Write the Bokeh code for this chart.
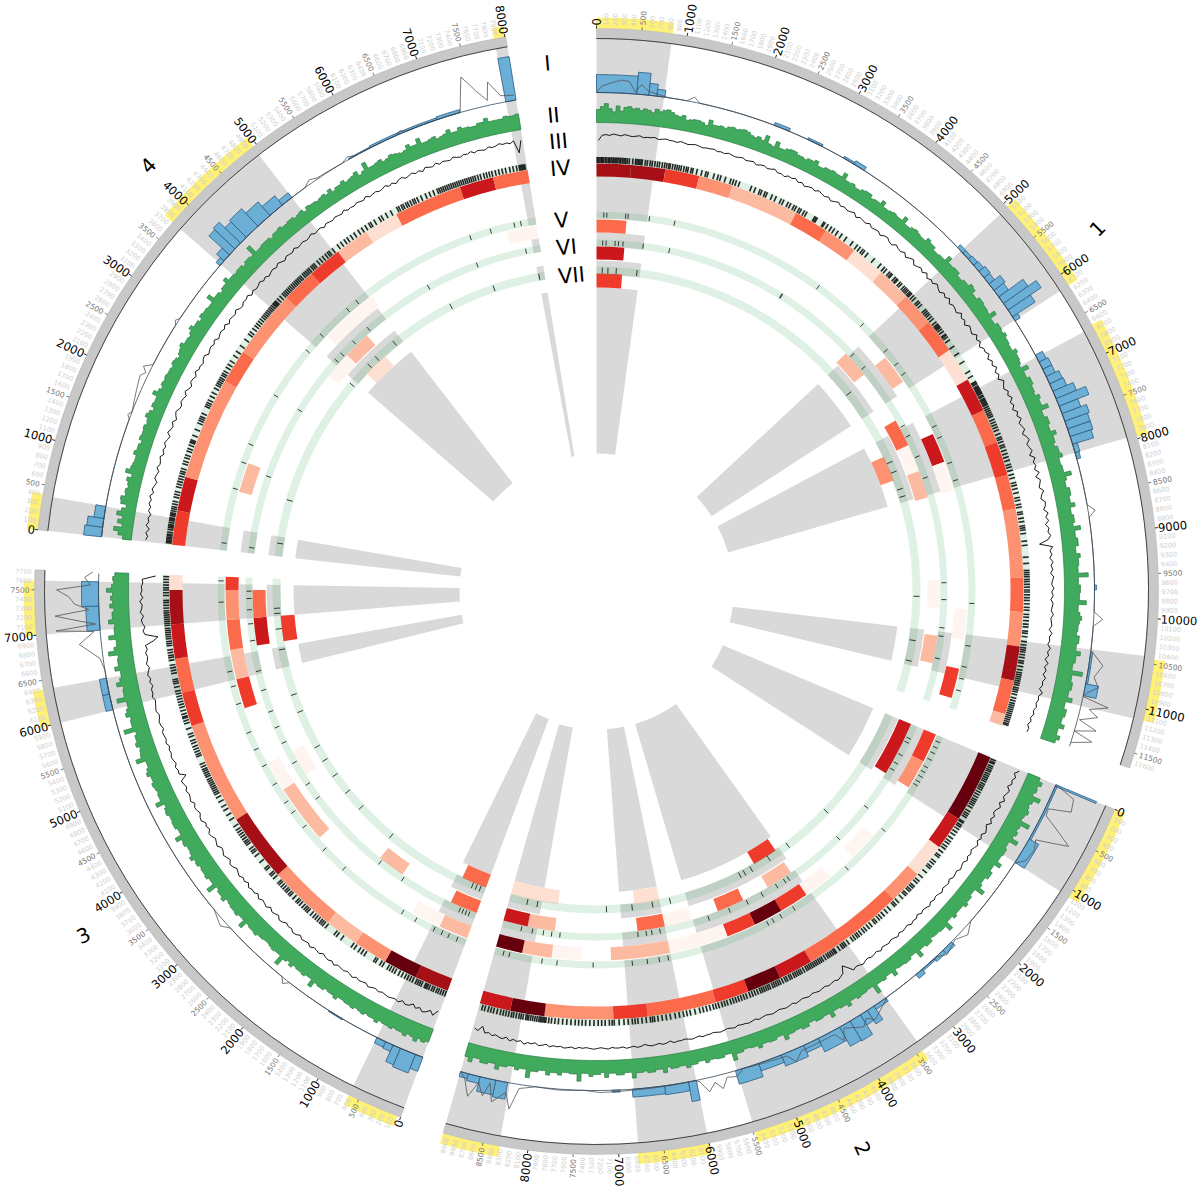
from math import radians, sin, cos
from bokeh.plotting import figure
from bokeh.models import Range1d, ColumnDataSource
from bokeh.core.properties import value
from bokeh.embed import file_html
from bokeh.resources import INLINE

R0,R1,R2,R3,R4,R5,R6,R7,R8 = '#fff5f0','#fee0d2','#fcbba1','#fc9272','#fb6a4a','#ef3b2c','#cb181d','#a50f15','#67000d'

sector_names = ["1","2","3","4"]
track_names = ["I","II","III","IV","V","VI","VII"]
start_deg = [0.0,112.7,200.4,276.3]
lengths = [11670,8950,7720,8010]
last_tick = [11600,8900,7700,8000]

gray_regions = [
 [(0,840),(5060,6150),(6680,7960),(10420,11130)],
 [(0,1090),(3420,5480),(6000,6780),(8320,8950)],
 [(0,620),(6000,6400),(7000,7600)],
 [(0,380),(3740,4950),(7880,8010)],
]
yellow_regions = [
 [(0,840),(5050,6150),(6650,7980),(10450,11130)],
 [(0,1090),(3430,5480),(6000,6790),(8310,8950)],
 [(40,620),(6000,6400),(7000,7600)],
 [(0,400),(3740,4960),(7880,8000)],
]
heat4 = [
 [(0,500,R7),(500,1000,R7),(1000,1500,R5),(1500,2000,R3),(2000,3000,R2),(3000,3500,R4),(3500,4000,R3),(4000,4500,R1),(4500,5000,R2),(5000,5500,R3),(5500,6000,R4),(6000,6500,R1),(6500,7000,R6),(7000,7500,R4),(7500,8000,R5),(8000,8500,R4),(8500,9500,R3),(9500,10000,R4),(10000,10500,R3),(10500,11000,R7),(11000,11500,R4),(11500,11670,R2)],
 [(0,1000,R8),(1000,1500,R6),(1500,2000,R1),(2000,2500,R3),(2500,4000,R4),(4000,4500,R6),(4500,5000,R8),(5000,5500,R5),(5500,6500,R4),(6500,7000,R5),(7000,8000,R3),(8000,8500,R8),(8500,8950,R6)],
 [(0,500,R7),(500,1000,R8),(1000,1500,R3),(1500,2000,R2),(2000,3000,R3),(3000,4000,R7),(4000,5500,R3),(5500,6000,R5),(6000,6500,R4),(6500,7000,R6),(7000,7500,R7),(7500,7720,R1)],
 [(0,500,R5),(500,1000,R6),(1000,2500,R3),(2500,3000,R4),(3000,4000,R3),(4000,4500,R4),(4500,5000,R5),(5000,5500,R2),(5500,6000,R1),(6000,7000,R4),(7000,7500,R6),(7500,8010,R4)],
]
heat5 = [
 [(0,500,R4),(5500,6000,R2),(7000,7500,R6),(7500,8000,R0),(10000,10500,R0),(11000,11500,R5)],
 [(0,500,R5),(500,1000,R3),(2000,2500,R0),(3000,3500,R0),(3500,4000,R5),(4000,4500,R8),(4500,5000,R5),(5000,6000,R0),(6000,7000,R2),(7500,8000,R0),(8000,8500,R2),(8500,8950,R8)],
 [(0,500,R2),(500,1000,R0),(3000,4000,R2),(4000,4500,R0),(5500,6000,R5),(6000,6500,R2),(6500,7000,R4),(7000,7500,R3),(7500,7720,R5)],
 [(1000,1500,R2),(4000,5000,R0),(7500,8010,R0)],
]
heat6 = [
 [(0,500,R6),(5000,5500,R2),(6500,7000,R4),(7000,7500,R0),(7500,8000,R2),(9500,10000,R0),(10500,11000,R2)],
 [(0,1000,R6),(3500,4000,R2),(4500,5000,R4),(5500,6000,R0),(6000,6500,R4),(8000,8500,R2),(8500,8950,R6)],
 [(0,500,R4),(1500,2000,R2),(4000,4500,R0),(6500,7000,R6),(7000,7500,R4)],
 [(3500,4000,R0),(4000,4500,R2)],
]
heat7 = [
 [(0,500,R5),(7000,7500,R3)],
 [(3500,4000,R5),(6000,6500,R1),(8000,8950,R1)],
 [(0,500,R4),(6500,7000,R5)],
 [(4000,4500,R1)],
]
band5_ticks = [
 [120,170,480,520,870,1290,3890,4845,5420,5700,5900,6900,7100,7550,7850,9900,10600,10950,11150,11350],
 [100,200,300,420,560,650,740,830,900,1820,2700,3800,4050,4200,4300,6050,6200,6400,6650,7300,7900,8150,8700,8800],
 [150,300,420,560,900,1150,2350,2800,3300,3600,3800,4150,4500,4800,5100,5600,5900,6150,7300,7650],
 [120,1030,1480,1800,2700,3600,3950,4550,4750,6900,7250,7650,7760],
]
band6_ticks = [
 [110,170,330,390,470,830,1300,3445,3460,5100,5400,6650,6850,7250,7650,9550,9850,10350,10500,10900],
 [250,330,580,750,880,1700,2450,3600,3680,3850,4150,4450,4800,5200,6100,6250,6350,6500,7900,8050,8200,8400,8600],
 [120,180,240,300,1450,1950,3550,3850,4300,4700,5000,5300,5700,6050,6600,6900,7150,7350,7480],
 [100,1400,2700,3800,3950,4250,4600,5900,6850,7750],
]
band7_ticks = [
 [110,220,380,780,5600,7150,7350,7700,7850,9800,10650,11050],
 [2250,3250,3700,4100,4250,4350,5800,6150,6550,7050,8400,8600],
 [100,180,260,2100,2900,3300,3700,4050,4350,5100,5450,6350,6750,7050,7150],
 [250,1100,3650,4150,4350,4800,6100,7000,7900],
]
# blue histogram: start, end, height
blue_bars = [
 [(0,500,18),(500,650,22),(650,750,12),(750,850,7),(2250,2450,3),(2700,2900,2),(3200,3350,2),(3350,3500,4),(5000,5100,4),(5100,5200,4),(5200,5300,5),(5300,5400,6),(5400,5500,8),(5500,5600,7),(5600,5700,14),(5700,5800,12),(5800,5900,30),(5900,6000,40),(6000,6100,27),(6100,6160,6),(6650,6750,8),(6750,6850,10),(6850,6950,10),(6950,7050,14),(7050,7150,15),(7150,7250,22),(7250,7350,32),(7350,7450,20),(7450,7550,26),(7550,7650,24),(7650,7750,24),(7750,7850,22),(7850,7960,5),(7960,8040,4),(9620,9680,2),(10450,10650,2),(10650,10850,2),(10850,11000,13)],
 [(0,22,44),(22,750,2),(750,1090,11),(2350,2500,5),(2500,2650,4),(2650,2850,2),(2850,2950,5),(3420,3600,4),(3600,3700,16),(3700,3800,12),(3800,3950,23),(3950,4100,22),(4100,4400,15),(4400,4600,8),(4600,4900,12),(4900,5200,8),(5200,5500,14),(6000,6100,20),(6100,6400,9),(6400,6800,8),(6950,7050,2),(8350,8500,17),(8500,8700,15),(8700,8850,7),(8850,8950,5)],
 [(0,100,15),(100,300,20),(300,400,18),(400,500,7),(500,620,6),(1100,1300,1),(6000,6200,7),(6200,6400,7),(7000,7300,13),(7300,7600,17)],
 [(0,120,18),(120,230,16),(230,380,10),(3720,3800,5),(3800,3900,10),(3900,4000,28),(4000,4100,30),(4100,4200,22),(4200,4400,24),(4400,4600,18),(4600,4800,12),(4800,4950,6),(5800,6100,1),(6100,6500,2),(6500,7000,2),(7000,7300,3),(7880,8010,44)],
]
gray_line_pos = [
 [0,60,150,300,400,480,550,640,760,900,1130,1210,1290,8620,8700,8780,9950,10040,10130,10430,10600,10750,10870,10950,11010,11080,11150,11220,11300,11380,11450,11520,11600],
 [0,80,230,310,400,600,720,840,1000,1100,2000,2150,2300,2500,2600,2700,3400,3680,3760,3840,4060,4130,4200,4650,4760,4840,5400,5500,5620,5700,5780,5870,5960,6020,6800,7200,7400,7700,8000,8200,8280,8350,8500,8560,8620,8700,8790,8880,8950],
 [0,1900,1960,2020,2900,3000,3100,3200,6400,6500,6650,6750,6850,6920,6990,7030,7080,7200,7260,7330,7420,7500,7560,7650,7720],
 [0,400,1500,1550,1600,2050,2110,2170,2240,2800,2850,2900,5150,5250,5350,5700,5800,5900,6450,6520,6600,7300,7420,7550,7660,7710,7830,7990],
]
gray_line_h = [
 [0,6,9,13,12,2,10,4,2,0,0,5,0,0,7,0,0,9,0,0,14,7,13,4,0,27,9,19,2,21,0,20,0],
 [0,22,25,3,4,38,6,10,8,0,0,7,1,6,1,0,0,12,6,12,3,14,4,4,12,3,0,6,4,14,6,14,2,0,1,2,0,1,0,4,26,10,22,4,18,6,22,5,0],
 [0,0,5,0,0,6,3,0,0,0,3,12,22,14,6,44,4,44,10,24,30,42,8,14,6],
 [0,0,0,3,0,7,3,8,0,0,3,0,0,4,1,0,3,0,0,3,0,0,34,17,5,23,7,5],
]
green1 = [13,16,19,14,11,17,12,16,17,15,16,14,16,15,13,17,15,17,18,16,14,13,15,11,12,13,13,12,10,16,12,12,13,12,14,15,14,15,16,15,13,12,14,12,18,11,10,16,11,11,13,14,14,12,12,11,13,13,15,11,11,13,13,14,13,13,18,12,12,13,11,11,13,14,14,11,12,12,16,11,11,12,13,12,12,17,11,11,13,14,13,12,12,16,14,14,11,11,12,12,18,13,13,14,14,11,11,13,13,16,15,11,11,14,14,13,13,12,18,11,11,14,14,13,15,13,13,12,12,16,14,14,13,11,18,12,12,15,15,13,13,12,16,14,14,20,12,12,15,15,13,13,18,14,14,12,15,15,17,13,13,14,14,21,15,13,13,16,16,14,14,18,13,13,15,15,13,20,14,14,16,16,13,13,17,15,15,14,14,24,14,14,16,16,15,15,22,14,14,16,18,16,15,15,14,17,17,15,15,20,16,16,14,14,25,15,15,17,17,15,15,20,14,14,17,17,15,15,19,14,14,18,15]
green2 = [13,17,14,15,13,22,16,14,15,17,15,14,24,16,15,17,15,22,14,14,16,16,15,15,20,14,14,17,17,14,14,16,22,13,13,15,15,17,14,14,14,16,13,13,21,15,15,14,14,13,16,16,14,14,20,13,13,15,15,14,14,13,18,13,13,15,14,14,22,13,13,14,14,15,13,13,17,14,14,13,13,18,13,13,14,14,12,12,15,15,13,13,14,14,18,12,12,14,14,13,13,16,13,13,12,12,14,14,20,12,12,14,14,13,13,15,12,12,14,14,16,13,13,14,14,12,17,13,13,15,15,13,14,14,19,13,13,15,15,13,13,17,12,14,14,16,13,13,21,14,14,13,13,16,14,14,17,13,13,15,15,22,14,14,16,13,13,15,15,19,14,14,16,16,13,13,18,14]
green3 = [14,16,14,18,15,14,17,15,15,14,16,15,15,14,17,15,15,14,16,15,14,16,15,15,14,14,17,15,15,14,16,16,15,21,14,14,16,15,15,14,17,14,16,24,15,15,16,15,14,14,15,15,17,16,16,15,22,15,15,17,16,16,15,14,18,16,16,14,23,15,15,17,16,16,15,17,16,19,16,15,15,17,16,21,14,14,16,16,15,15,17,16,14,22,16,16,15,16,17,15,15,18,16,14,14,23,17,16,15,18,16,16,14,25,16,16,15,19,17,15,15,24,16,16,15,21,17,15,15,20,16,16,15,24,18,15,15,22,16,16,15,21,17,17,15,19,16,18,16,22,17,15,16,14]
green4 = [9,14,19,11,16,12,18,14,10,16,17,13,14,12,13,15,11,18,14,13,12,12,15,13,13,11,14,13,13,14,12,13,16,14,11,14,13,13,18,14,12,14,13,14,13,13,12,14,13,11,13,14,16,13,13,12,14,17,14,14,12,15,14,14,13,13,20,14,14,12,14,14,18,14,14,13,14,14,12,14,14,13,22,13,13,14,14,14,12,14,14,15,13,13,14,14,12,13,14,11,14,13,13,12,13,14,12,15,11,13,13,15,12,13,14,16,11,13,20,13,13,14,15,12,13,15,14,13,12,13,17,14,14,19,13,13,14,15,12,13,14,17,13,13,16,14,14,13,13,15,15,18,14,14,14,14,16,15,15,16]
black1 = [-8,-1,0,-1,1,0,-1,1,0,-1,0,1,-1,0,0,1,-1,0,1,0,0,-1,1,0,-1,0,1,0,-1,0,0,1,-1,0,-1,1,0,-1,0,1,-1,0,1,-2,0,1,-1,0,2,-1,0,-2,1,0,2,-1,1,-2,0,1,-1,2,0,-1,1,-2,0,2,-1,1,-1,0,2,-2,1,0,-1,2,-1,0,1,-2,1,2,-1,-2,2,0,-1,2,-2,1,3,-2,0,2,-1,3,-2,1,-1,3,0,-2,2,-1,3,-2,1,0,-2,3,-1,1,-3,2,0,-2,3,-1,2,-3,1,0,3,-2,2,-1,3,-2,1,-3,3,0,-2,2,-1,3,-2,1,-3,2,-1,3,-2,0,2,-3,1,3,-2,0,2,-3,3,-1,1,-2,3,-3,2,0,-2,3,-1,-3,2,1,-2,3,-1,2,-3,1,-1,2,-2,-14,3,-1,1,-2,2,-1,1,-2,2,0,-1,2,-1,1,-2,1,0,-1,2,-1,0,1,-2,2,-1,0,-2,2,-1,1,-3,2,-2,1,-2,2,-1,0,-3,2,-2,-1,-3,-1,-4,-2,-5,-3,-6,-3,-4]
black2 = [4,-1,3,0,2,-2,3,1,-1,3,-2,2,-1,-3,1,-2,2,-3,0,2,-2,1,-2,2,0,-2,1,-1,2,-1,0,2,-1,0,1,-2,1,0,-1,2,0,-1,1,-1,2,0,-1,1,-2,1,0,2,-1,0,1,-1,2,0,-1,1,0,-1,2,-1,0,1,-1,0,2,0,-1,1,-6,-12,-3,-1,1,-1,0,1,-1,0,1,0,-1,1,0,-1,0,1,-1,0,1,0,-1,0,1,0,-1,0,1,-1,0,1,0,0,-1,1,0,-1,0,1,0,-1,0,0,1,-1,0,1,0,-1,0,0,1,-2,0,1,-1,0,1,0,-2,0,1,-1,0,1,-1,0,0,-1,1,0,-1,0,1,0,-1,0,-1,1,-1,0,1,-1,0,-1,1,-2,0,1,-2,0,-1,2,-2,0,-2,1,-3,0,-1,-3,-1,-4,-2,-10,-3,-5]
black3 = [-9,-1,-6,-2,0,-4,-1,-5,-1,0,-3,1,-1,0,1,0,-1,1,-1,0,2,-1,0,1,-1,2,0,-1,1,0,-1,2,-1,1,0,-2,1,0,-1,2,-1,0,1,-2,1,2,-1,0,-2,1,2,-2,0,1,-2,2,0,-1,2,-2,1,0,2,-2,1,-1,2,0,-2,1,2,-2,0,2,-1,-2,2,0,-2,1,2,-2,0,-2,2,1,-2,0,1,-2,2,0,-1,1,-2,0,1,-8,0,-1,1,-2,0,1,-1,0,-2,1,-1,0,1,-2,0,1,-1,-2,1,0,-1,-2,1,-1,0,-3,0,-2,1,-1,-3,0,-2,-3,-1,-4,-2,-13,-20,-3,-1,-4,-1,0,-3,1,-1,-2,1,-3,0,-2,-1,-3,-2,-20]
black4 = [-3,-5,-2,-6,-1,-4,-2,-5,-1,-3,0,-2,1,-3,0,-2,-4,0,-1,-3,1,-2,-1,1,-3,0,-2,1,-1,-3,2,-1,-2,1,-3,0,2,-1,-2,1,0,-2,2,-1,-3,1,0,-2,2,-1,0,-2,1,2,-2,0,1,-1,2,-2,0,1,-1,2,-2,1,0,-1,2,-1,-2,1,0,2,-2,1,-1,0,2,-1,1,-2,0,1,-1,2,0,-2,1,0,-1,2,-1,0,1,-1,0,2,-1,0,1,-2,1,0,-1,1,0,-1,2,-1,0,-1,1,0,-1,2,-1,0,1,-1,0,2,-1,1,-2,1,2,-1,0,2,-1,1,-2,2,0,-1,2,-1,1,0,-1,2,0,-1,1,0,2,-1,1,0,-1,2,0,1,3,1,2,0,3,-14,2]
rug1 = [10,30,50,70,85,105,130,150,175,190,210,235,250,270,290,310,335,350,375,395,415,440,470,520,560,580,600,620,640,655,700,730,770,800,840,875,905,945,980,1010,1040,1060,1095,1130,1160,1190,1220,1260,1295,1320,1365,1390,1450,1520,1580,1610,1700,1760,1800,1870,1950,1990,2030,2080,2260,2320,2390,2420,2470,2500,2580,2640,2720,2760,2830,2870,2925,2960,3010,3040,3090,3130,3260,3280,3300,3410,3430,3480,3540,3590,3650,3720,3800,3910,3990,4040,4090,4120,4180,4300,4420,4490,4530,4590,4620,4640,4700,4730,4750,4800,4830,4880,4910,4935,4960,4990,5010,5030,5070,5110,5170,5200,5240,5330,5360,5390,5420,5460,5500,5560,5600,5620,5640,5660,5690,5730,5780,5800,5830,5880,5990,6110,6250,6410,6490,6580,6600,6620,6650,6670,6690,6710,6730,6750,6770,6800,6820,6850,6870,6890,6910,6930,6950,6980,7010,7040,7070,7100,7130,7180,7220,7260,7300,7340,7400,7450,7480,7520,7570,7600,7650,7700,7750,7800,7860,7900,7950,8010,8060,8130,8170,8220,8280,8350,8390,8450,8490,8560,8590,8650,8700,8760,8790,8820,8870,8980,9040,9210,9300,9400,9430,9460,9490,9530,9560,9600,9640,9680,9710,9750,9790,9830,9880,9930,9970,10030,10070,10120,10170,10210,10270,10300,10350,10420,10470,10510,10540,10570,10610,10650,10700,10730,10780,10830,10870,10900,10930,10960,10990,11020,11050,11090,11120,11150,11190,11240,11280,11320,11350,11380,11410,11440,11470,11500,11530,11560,11590,11620,11640]
rug2 = [20,50,70,110,140,170,195,230,260,290,320,350,390,420,450,480,520,560,600,640,670,700,730,770,830,870,900,930,1000,1020,1060,1090,1130,1180,1230,1290,1340,1380,1430,1470,1530,1590,1620,1700,1740,1790,1820,1900,1990,2060,2100,2160,2190,2230,2260,2310,2340,2400,2480,2530,2560,2640,2700,2760,2810,2850,2900,2930,2990,3040,3090,3130,3180,3220,3250,3290,3330,3400,3450,3480,3510,3560,3620,3640,3670,3700,3730,3760,3800,3840,3870,3900,3930,3960,3990,4020,4050,4080,4110,4150,4190,4220,4250,4280,4310,4350,4380,4420,4450,4490,4530,4560,4590,4620,4650,4690,4720,4750,4780,4810,4840,4880,4920,4960,5000,5050,5090,5130,5170,5210,5250,5290,5340,5380,5420,5470,5510,5550,5600,5650,5700,5750,5820,5890,5940,5990,6050,6110,6180,6240,6300,6360,6410,6440,6470,6530,6590,6650,6690,6730,6790,6850,6920,6990,7020,7060,7120,7170,7220,7280,7340,7400,7450,7500,7550,7610,7670,7730,7790,7840,7890,7930,7970,7990,8010,8030,8050,8070,8100,8130,8160,8190,8220,8240,8260,8300,8330,8360,8400,8440,8470,8510,8550,8590,8630,8680,8730,8770,8810,8860,8900]
rug3 = [15,50,85,120,150,190,220,260,290,310,330,380,410,440,470,520,560,600,640,690,740,800,840,880,920,1000,1040,1110,1140,1300,1350,1400,1470,1520,1700,1780,1820,1980,2030,2060,2090,2130,2170,2210,2260,2320,2350,2380,2420,2470,2510,2540,2600,2660,2690,2730,2760,2800,2840,2880,2910,3000,3050,3080,3160,3190,3300,3410,3470,3500,3540,3610,3640,3670,3710,3750,3790,3830,3870,3930,4040,4120,4200,4260,4340,4410,4460,4490,4520,4550,4580,4610,4640,4670,4700,4740,4770,4800,4830,4860,4900,4940,5060,5090,5130,5170,5210,5260,5300,5360,5400,5480,5560,5600,5640,5660,5700,5750,5800,5840,5880,5920,5960,6000,6040,6100,6150,6180,6210,6300,6340,6380,6420,6490,6530,6560,6600,6640,6700,6730,6760,6800,6830,6860,6890,6920,6950,6990,7020,7050,7080,7110,7140,7170,7200,7240,7280,7320,7350,7420,7460,7500,7530,7570,7610,7650,7690]
rug4 = [20,40,60,80,100,120,140,170,210,240,260,280,310,340,360,380,410,430,450,480,510,540,580,620,680,720,760,830,870,910,950,990,1030,1060,1100,1170,1210,1260,1300,1360,1400,1450,1490,1510,1530,1600,1690,1790,1830,1860,1890,1940,2050,2080,2110,2150,2210,2270,2340,2390,2420,2450,2480,2510,2550,2580,2620,2680,2730,2790,2880,2950,3050,3160,3250,3290,3350,3400,3440,3480,3520,3560,3590,3620,3650,3680,3710,3740,3770,3800,3820,3840,3860,3900,3950,4000,4030,4060,4090,4120,4150,4180,4210,4240,4270,4300,4330,4360,4400,4430,4460,4490,4520,4560,4590,4620,4680,4730,4780,4830,4870,4900,4960,5050,5110,5170,5220,5280,5340,5410,5470,5530,5590,5620,5680,5760,5800,5870,5950,6050,6080,6120,6150,6190,6220,6260,6300,6330,6370,6430,6500,6560,6620,6680,6710,6740,6770,6800,6830,6860,6890,6920,6950,6980,7010,7040,7070,7100,7130,7160,7190,7220,7250,7290,7330,7380,7420,7460,7500,7550,7600,7650,7700,7760,7810,7860,7900,7920,7940,7960,7980]

K = 0.00929
CX = [596,596,596,596]
CY = [590,592,590,591]
SHIFT = [0,-3,0,0]
H = 1187

p = figure(width=1200, height=1187, x_range=Range1d(0,1200), y_range=Range1d(0,1187),
           output_backend="svg", toolbar_location=None, min_border=0)
p.axis.visible = False
p.grid.visible = False
p.outline_line_color = None

def pt(s, pos, r):
    t = radians(start_deg[s] + pos*K)
    return CX[s] + r*sin(t), (H-CY[s]) + r*cos(t)

class W:
    def __init__(self):
        self.d = dict(x=[],y=[],r0=[],r1=[],a0=[],a1=[],c=[])
    def add(self,s,a,b,r0,r1,c):
        d=self.d
        d['x'].append(CX[s]); d['y'].append(H-CY[s]); d['r0'].append(r0); d['r1'].append(r1)
        d['a0'].append(radians(90-start_deg[s]-b*K)); d['a1'].append(radians(90-start_deg[s]-a*K)); d['c'].append(c)
    def draw(self,**kw):
        p.annular_wedge('x','y','r0','r1','a0','a1',source=ColumnDataSource(self.d),fill_color='c',**kw)

def seg(q,s,pos,r0,r1):
    x0,y0=pt(s,pos,r0); x1,y1=pt(s,pos,r1)
    q[0].append(x0); q[1].append(y0); q[2].append(x1); q[3].append(y1)

gw=W(); yw=W(); ring=W()
for s in range(4):
    sh=SHIFT[s]
    for a,b in gray_regions[s]:
        for r0,r1 in [(137,303+sh),(316+sh,330+sh),(344+sh,358+sh),(372+sh,553)]:
            gw.add(s,a,b,r0,r1,'#d9d9d9')
    for a,b in yellow_regions[s]:
        yw.add(s,a,b,562,573,'#fff176')
    ring.add(s,0,lengths[s],552,562,'#c8c8c8')
gw.draw(line_color=None)
yw.draw(line_color=None)
ring.draw(line_color='#aaaaaa',line_width=0.4)
for s in range(4):
    p.arc([CX[s]],[H-CY[s]],radius=552,start_angle=radians(90-start_deg[s]-lengths[s]*K),end_angle=radians(90-start_deg[s]),
          line_color='#333333',line_width=0.9)

cw=W()
for s in range(4):
    sh=SHIFT[s]
    for a,b,c in heat4[s]: cw.add(s,a,b,414,427,c)
    for a,b,c in heat5[s]: cw.add(s,a,b,358+sh,371+sh,c)
    for a,b,c in heat6[s]: cw.add(s,a,b,331+sh,344+sh,c)
    for a,b,c in heat7[s]: cw.add(s,a,b,303+sh,317+sh,c)
cw.draw(line_color=None)

bw=W()
for s in range(4):
    sh=SHIFT[s]
    L=lengths[s]
    bw.add(s,0,L,427,434,'#41ab5d')
    bw.add(s,0,L,372+sh,379+sh,'#41ab5d')
    bw.add(s,0,L,344+sh,351+sh,'#41ab5d')
    bw.add(s,0,L,316+sh,324+sh,'#41ab5d')
bw.draw(line_color=None,fill_alpha=0.17)

for s,(rug,t5,t6,t7) in enumerate(zip([rug1,rug2,rug3,rug4],band5_ticks,band6_ticks,band7_ticks)):
    sh=SHIFT[s]
    q=([],[],[],[])
    for v in rug: seg(q,s,v,427.5,433.5)
    p.segment(q[0],q[1],q[2],q[3],line_color='#111111',line_width=1.6,line_alpha=0.9)
    q=([],[],[],[])
    for v in t5: seg(q,s,v,373+sh,378+sh)
    for v in t6: seg(q,s,v,345+sh,350+sh)
    for v in t7: seg(q,s,v,317+sh,323+sh)
    p.segment(q[0],q[1],q[2],q[3],line_color='#222222',line_width=0.9)

for s,g in enumerate([green1,green2,green3,green4]):
    L=lengths[s]; w=L/len(g); xs=[]; ys=[]
    for i,h in enumerate(g):
        for f in (0,0.5,1):
            x,y=pt(s,(i+f)*w,468+h); xs.append(x); ys.append(y)
    for i in range(len(g)*2,-1,-1):
        x,y=pt(s,i*w/2,468); xs.append(x); ys.append(y)
    p.patch(xs,ys,fill_color='#41ab5d',line_color='#2a7a42',line_width=0.7)

for s,b in enumerate([black1,black2,black3,black4]):
    w=lengths[s]/len(b); xs=[]; ys=[]
    for i,h in enumerate(b):
        x,y=pt(s,(i+0.5)*w,456+h*0.75); xs.append(x); ys.append(y)
    p.line(xs,ys,line_color='#000000',line_width=0.9)

bl=W()
for s in range(4):
    for a,b,h in blue_bars[s]:
        bl.add(s,a,b,498,498+h,'#6baed6')
bl.draw(line_color='#2c5d85',line_width=0.8)

for s in range(4):
    pairs=sorted(zip(gray_line_pos[s],gray_line_h[s]))
    xs=[];ys=[]
    for (v0,h0),(v1,h1) in zip(pairs,pairs[1:]):
        # follow the circle between two read points instead of cutting a chord
        n=max(1,int((v1-v0)/40))
        for i in range(n):
            f=i/n
            x,y=pt(s,v0+(v1-v0)*f,498+h0+(h1-h0)*f); xs.append(x); ys.append(y)
    x,y=pt(s,pairs[-1][0],498+pairs[-1][1]); xs.append(x); ys.append(y)
    p.line(xs,ys,line_color='#555555',line_width=0.8)
    xs=[];ys=[]
    for v in range(0,lengths[s]+1,50):
        x,y=pt(s,v,498); xs.append(x); ys.append(y)
    p.line(xs,ys,line_color='#33475b',line_width=0.8)

groups={}
for s in range(4):
    for v in range(0,last_tick[s]+1,100):
        kind = 'major' if v%1000==0 else ('mid' if v%500==0 else 'minor')
        th=(start_deg[s]+v*K)%360
        right = th<180
        off={'major':565,'mid':567,'minor':565}[kind]
        x,y=pt(s,v,off)
        ang=radians(90-th) if right else radians(270-th)
        g=groups.setdefault((kind,right),dict(x=[],y=[],t=[],a=[]))
        g['x'].append(x);g['y'].append(y);g['t'].append(str(v));g['a'].append(ang)
        if kind!='minor':
            q=([],[],[],[])
            seg(q,s,v,562,565)
            p.segment(q[0],q[1],q[2],q[3],line_color='#111111' if kind=='major' else '#666666',line_width=0.9)
style={'major':('11.5px','#000000'),'mid':('7.5px','#777777'),'minor':('6.5px','#cfcfcf')}
for (kind,right),g in groups.items():
    sz,col=style[kind]
    p.text('x','y',text='t',angle='a',source=ColumnDataSource(g),text_font=value("DejaVu Sans"),
           text_font_size=sz,text_color=col,text_align='left' if right else 'right',text_baseline='middle')

sector_px=[(1097,228,45),(862,1148,-65),(83,935,25),(148,165,46)]
for name,(x,y,a) in zip(sector_names,sector_px):
    p.text([x],[H-y],text=[name],angle=[radians(a)],text_font=value("DejaVu Sans"),text_font_size='20px',
           text_align='center',text_baseline='middle',text_color='#000000')
track_px=[(547,63),(553,115),(558,141),(560,168),(561,220),(566,247),(571,275)]
for name,(x,y) in zip(track_names,track_px):
    p.text([x],[H-y],text=[name],angle=[radians(5)],text_font=value("DejaVu Sans"),text_font_size='21px',
           text_align='center',text_baseline='middle',text_color='#000000')

open("out.html","w").write(file_html(p,INLINE))
